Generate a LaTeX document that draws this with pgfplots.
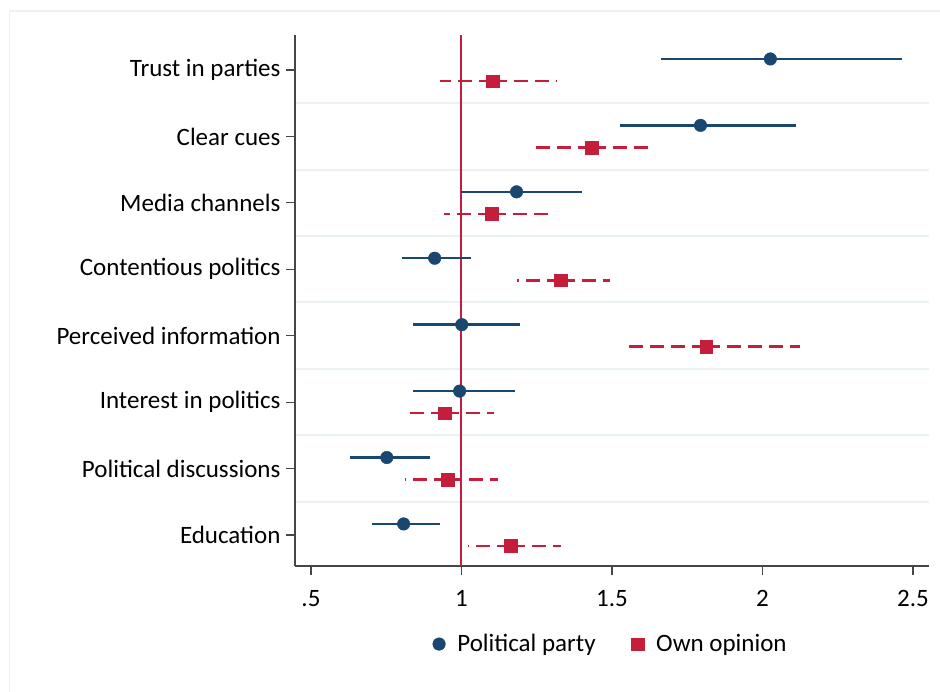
\documentclass[border=0pt]{standalone}
\usepackage{fontspec}
\setmainfont{Carlito}
\usepackage{pgfplots}
\usepackage{pgfplotstable}
\pgfplotsset{compat=1.18}
\definecolor{navy}{RGB}{26,71,111}
\definecolor{cranb}{RGB}{196,30,58}
\definecolor{gridc}{RGB}{234,242,243}
\definecolor{axc}{RGB}{70,70,70}

% y position, estimate, lower and upper bound of the interval
\pgfplotstableread{
y b lo hi
8 2.026 1.664 2.463
7 1.794 1.528 2.112
6 1.183 0.998 1.399
5 0.911 0.802 1.031
4 1.001 0.838 1.193
3 0.994 0.838 1.177
2 0.752 0.629 0.895
1 0.808 0.702 0.928
}\party
\pgfplotstableread{
y b lo hi
8 1.104 0.928 1.316
7 1.432 1.246 1.641
6 1.100 0.941 1.293
5 1.329 1.183 1.495
4 1.813 1.545 2.125
3 0.944 0.805 1.107
2 0.954 0.812 1.120
1 1.163 1.021 1.329
}\opinion

\begin{document}
\begin{tikzpicture}[font=\fontsize{25}{30}\selectfont]
\useasboundingbox (0,0) rectangle (940pt,692pt);
\fill[white] (0,0) rectangle (940pt,692pt);
\draw[gridc, line width=1.5pt] (9.5pt,0) -- (9.5pt,681pt) -- (940pt,681pt);
\begin{axis}[
    at={(295pt,126pt)}, anchor=south west,
    scale only axis, width=634pt, height=531pt,
    xmin=0.447, xmax=2.553, ymin=0.533, ymax=8.527,
    axis lines*=left,
    axis line style={axc, line width=1.2pt},
    every tick/.style={axc, line width=1.2pt},
    tick align=outside, major tick length=9pt,
    xtick={0.5,1,1.5,2,2.5}, xticklabels={.5,1,1.5,2,2.5},
    ytick={1,...,8},
    yticklabels={Education,Political discussions,Interest in politics,Perceived information,Contentious politics,Media channels,Clear cues,Trust in parties},
    minor ytick={1.5,2.5,...,7.5}, minor tick length=0pt,
    yminorgrids, minor grid style={gridc, line width=2pt},
    /pgf/number format/assume math mode=true,
    tick label style={font=\fontsize{25}{30}\selectfont},
    yticklabel style={xshift=-2pt},
    xticklabel style={yshift=-12pt},
    legend style={at={(0.498,-0.147)}, anchor=center, draw=none, fill=none,
      legend columns=2, font=\fontsize{25}{30}\selectfont,
      /tikz/every odd column/.append style={column sep=10pt},
      /tikz/every even column/.append style={column sep=34pt}},
    legend cell align=left,
  ]
  \addplot[cranb, line width=2pt, forget plot] coordinates {(1,0.533) (1,8.527)};
  \addplot[only marks, mark=*, mark size=6.3pt, navy,
    error bars/.cd, x dir=both, x explicit, error mark=none,
    error bar style={navy, line width=2.5pt}]
    table[x=b, y expr=\thisrow{y}+0.166,
      x error plus expr=\thisrow{hi}-\thisrow{b},
      x error minus expr=\thisrow{b}-\thisrow{lo}] {\party};
  \addlegendentry{Political party}
  \addplot[only marks, mark=square*, mark size=6.3pt, cranb,
    error bars/.cd, x dir=both, x explicit, error mark=none,
    error bar style={cranb, line width=2.5pt, dash pattern=on 14pt off 7pt}]
    table[x=b, y expr=\thisrow{y}-0.166,
      x error plus expr=\thisrow{hi}-\thisrow{b},
      x error minus expr=\thisrow{b}-\thisrow{lo}] {\opinion};
  \addlegendentry{Own opinion}
\end{axis}
\end{tikzpicture}
\end{document}
